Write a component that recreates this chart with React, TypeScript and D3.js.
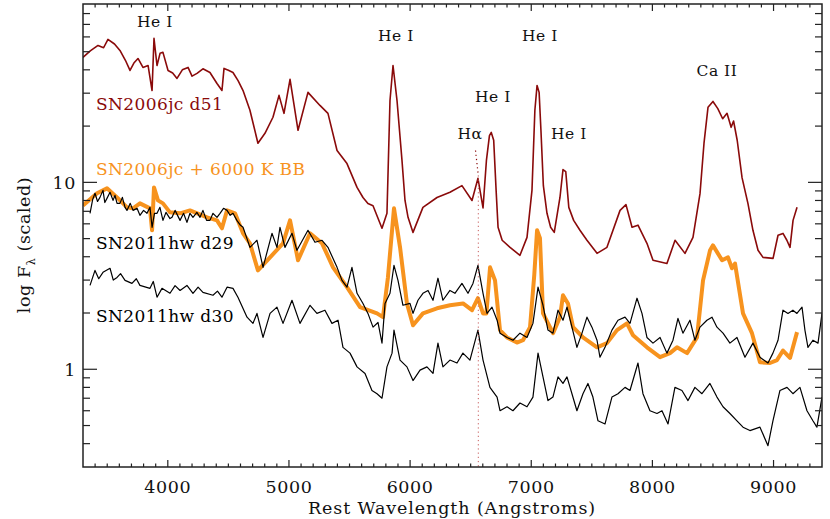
import React from 'react';
import * as d3 from 'd3';

// SN2006jc day 51 (dark red)
const d51Wave = [3300, 3360, 3424, 3470, 3506, 3560, 3605, 3650, 3688, 3720, 3754, 3795, 3837, 3870, 3886, 3911, 3936, 3960, 4002, 4040, 4076, 4120, 4167, 4200, 4241, 4290, 4348, 4406, 4447, 4464, 4500, 4538, 4580, 4621, 4678, 4744, 4802, 4868, 4918, 4959, 5009, 5075, 5157, 5256, 5322, 5397, 5479, 5562, 5611, 5652, 5694, 5768, 5809, 5834, 5859, 5892, 5933, 5958, 5983, 6024, 6106, 6222, 6329, 6428, 6511, 6560, 6602, 6630, 6655, 6670, 6690, 6710, 6726, 6760, 6825, 6907, 6965, 7006, 7030, 7048, 7065, 7080, 7100, 7130, 7160, 7190, 7237, 7262, 7285, 7310, 7350, 7402, 7460, 7543, 7625, 7733, 7782, 7832, 7881, 7955, 8005, 8120, 8187, 8269, 8335, 8393, 8426, 8459, 8500, 8540, 8580, 8616, 8650, 8670, 8700, 8740, 8789, 8830, 8872, 8913, 8996, 9037, 9078, 9110, 9136, 9161, 9194];
const d51Flux = [46.6, 50.5, 54.0, 52.5, 58.2, 55.0, 50.8, 45.0, 39.7, 43.5, 46.0, 41.2, 42.2, 31.0, 58.9, 42.2, 49.0, 49.6, 39.7, 38.5, 36.0, 40.0, 41.2, 37.0, 38.3, 40.5, 38.7, 33.8, 31.0, 40.7, 39.8, 38.7, 35.0, 31.0, 24.3, 16.2, 18.3, 22.3, 29.2, 23.4, 35.6, 19.0, 30.3, 25.8, 23.4, 14.8, 12.6, 9.4, 8.3, 7.7, 7.5, 5.68, 6.83, 27.4, 42.2, 27.4, 13.1, 8.0, 6.5, 5.4, 7.35, 8.3, 8.85, 9.6, 8.0, 10.5, 7.3, 13.1, 17.8, 18.5, 16.8, 9.06, 5.75, 4.9, 4.49, 4.07, 5.08, 9.06, 24.3, 33.0, 30.3, 19.0, 9.6, 6.83, 5.75, 5.4, 8.3, 11.7, 11.4, 7.35, 6.26, 5.54, 4.9, 4.17, 4.49, 7.08, 7.6, 5.75, 5.9, 4.72, 3.83, 3.68, 4.9, 4.17, 5.08, 8.7, 16.2, 25.2, 27.1, 24.8, 21.9, 23.4, 19.7, 21.3, 16.8, 10.6, 7.7, 5.54, 4.33, 3.97, 3.92, 5.21, 5.33, 4.9, 4.49, 6.26, 7.35];

// SN2006jc + 6000 K blackbody (orange)
const bbWave = [3300, 3416, 3498, 3581, 3663, 3713, 3770, 3853, 3870, 3886, 3919, 3960, 4018, 4101, 4183, 4324, 4406, 4447, 4489, 4555, 4621, 4678, 4744, 4844, 4951, 5009, 5075, 5174, 5273, 5364, 5479, 5587, 5727, 5776, 5817, 5867, 5917, 5974, 6024, 6106, 6222, 6329, 6437, 6511, 6560, 6602, 6630, 6660, 6701, 6742, 6800, 6882, 6932, 6990, 7025, 7048, 7072, 7097, 7180, 7237, 7262, 7303, 7345, 7427, 7543, 7625, 7708, 7790, 7840, 7955, 8063, 8145, 8203, 8286, 8368, 8418, 8476, 8500, 8575, 8624, 8657, 8682, 8748, 8822, 8888, 8971, 9029, 9078, 9136, 9194];
const bbFlux = [7.53, 8.74, 9.29, 8.31, 7.35, 7.26, 7.72, 7.26, 5.54, 9.4, 8.01, 7.72, 6.91, 6.83, 7.08, 6.5, 6.26, 5.68, 7.08, 6.83, 5.34, 4.72, 3.38, 3.97, 4.72, 6.26, 3.83, 5.34, 4.72, 3.51, 2.75, 2.15, 1.99, 1.9, 3.1, 7.26, 4.49, 2.25, 1.72, 1.99, 2.12, 2.2, 2.25, 2.07, 2.4, 1.99, 1.99, 3.51, 2.99, 1.62, 1.48, 1.39, 1.43, 1.68, 3.2, 5.54, 5.02, 1.99, 1.56, 1.9, 2.49, 2.25, 1.68, 1.48, 1.31, 1.38, 1.62, 1.76, 1.52, 1.31, 1.16, 1.22, 1.31, 1.22, 1.48, 2.99, 4.33, 4.6, 3.83, 3.97, 3.47, 3.68, 1.99, 1.56, 1.09, 1.08, 1.12, 1.26, 1.15, 1.58];

// SN2011hw day 29 (black)
const d29Wave = [3358, 3380, 3399, 3420, 3440, 3465, 3480, 3498, 3523, 3548, 3564, 3581, 3605, 3625, 3647, 3663, 3690, 3713, 3746, 3770, 3800, 3828, 3853, 3870, 3890, 3911, 3935, 3960, 3985, 4018, 4035, 4060, 4101, 4130, 4158, 4183, 4208, 4240, 4266, 4290, 4320, 4348, 4373, 4406, 4431, 4460, 4489, 4515, 4538, 4570, 4600, 4621, 4650, 4678, 4736, 4786, 4860, 4901, 4926, 4967, 5025, 5066, 5157, 5215, 5273, 5322, 5397, 5438, 5479, 5520, 5562, 5611, 5652, 5694, 5735, 5768, 5793, 5834, 5867, 5900, 5941, 5999, 6024, 6065, 6106, 6148, 6189, 6230, 6271, 6329, 6370, 6428, 6478, 6519, 6560, 6602, 6635, 6676, 6718, 6742, 6800, 6849, 6907, 6965, 7014, 7056, 7097, 7138, 7179, 7221, 7262, 7295, 7336, 7377, 7419, 7460, 7501, 7543, 7567, 7609, 7666, 7716, 7774, 7815, 7873, 7914, 7955, 8005, 8063, 8120, 8170, 8211, 8252, 8310, 8351, 8393, 8450, 8492, 8533, 8583, 8640, 8698, 8764, 8830, 8888, 8954, 8995, 9037, 9078, 9119, 9160, 9193, 9235, 9259, 9284, 9325, 9367, 9400];
const d29Flux = [6.83, 8.1, 8.74, 7.9, 8.31, 9.06, 7.8, 8.21, 8.85, 8.01, 8.52, 7.72, 7.72, 8.31, 7.35, 7.08, 7.72, 7.08, 7.26, 6.66, 7.08, 6.83, 7.35, 5.75, 6.83, 6.83, 7.35, 6.26, 6.91, 6.4, 6.5, 7.08, 6.26, 6.83, 6.11, 6.83, 6.5, 6.91, 6.5, 7.08, 6.26, 6.26, 6.83, 6.5, 6.83, 7.26, 7.08, 6.66, 6.83, 6.26, 5.89, 5.75, 5.08, 4.49, 4.9, 3.51, 5.34, 4.49, 5.75, 4.49, 5.34, 4.33, 5.54, 4.78, 4.9, 4.49, 3.51, 2.99, 2.75, 3.51, 2.55, 2.25, 1.99, 1.68, 1.78, 1.38, 2.25, 2.55, 3.6, 2.99, 2.2, 2.25, 1.99, 2.34, 2.55, 2.64, 2.34, 3.07, 2.34, 2.64, 2.55, 2.88, 2.55, 2.88, 3.6, 2.55, 1.99, 2.15, 1.83, 1.56, 1.48, 1.43, 1.56, 1.48, 1.76, 2.75, 2.2, 1.62, 1.56, 2.07, 1.83, 2.15, 1.68, 1.31, 1.56, 1.9, 1.68, 1.43, 1.16, 1.31, 1.62, 1.83, 1.9, 1.76, 2.4, 1.99, 1.48, 1.38, 1.48, 1.22, 1.43, 1.87, 1.56, 1.83, 1.43, 1.68, 1.83, 1.9, 1.68, 1.56, 1.38, 1.48, 1.16, 1.38, 1.16, 1.08, 1.22, 1.43, 2.07, 1.99, 2.07, 1.99, 2.15, 1.62, 1.31, 1.43, 1.38, 1.99];

// SN2011hw day 30 (black)
const d30Wave = [3358, 3399, 3430, 3465, 3523, 3550, 3581, 3610, 3647, 3704, 3740, 3770, 3853, 3880, 3911, 3952, 4018, 4060, 4101, 4158, 4208, 4250, 4290, 4373, 4410, 4447, 4489, 4538, 4579, 4654, 4703, 4736, 4786, 4844, 4901, 4951, 5025, 5091, 5174, 5231, 5297, 5355, 5405, 5446, 5504, 5562, 5628, 5685, 5727, 5768, 5809, 5851, 5867, 5917, 5974, 6024, 6082, 6139, 6189, 6230, 6271, 6329, 6387, 6436, 6494, 6560, 6602, 6659, 6718, 6742, 6800, 6849, 6907, 6965, 7014, 7056, 7097, 7138, 7179, 7221, 7262, 7295, 7336, 7377, 7427, 7468, 7509, 7551, 7609, 7666, 7716, 7774, 7815, 7881, 7922, 7980, 8038, 8079, 8129, 8186, 8244, 8294, 8351, 8409, 8475, 8533, 8583, 8640, 8698, 8748, 8805, 8888, 8954, 8995, 9053, 9111, 9160, 9218, 9276, 9325, 9358, 9400];
const d30Flux = [2.81, 3.38, 3.05, 3.3, 3.47, 3.0, 3.1, 3.25, 2.99, 2.88, 3.05, 2.81, 2.71, 2.95, 2.43, 2.71, 2.55, 2.8, 2.64, 2.81, 2.55, 2.75, 2.58, 2.49, 2.62, 2.43, 2.75, 2.71, 2.43, 1.9, 1.76, 1.99, 1.48, 1.99, 2.15, 1.76, 2.34, 1.76, 2.2, 1.99, 2.07, 1.76, 1.83, 1.31, 1.22, 1.03, 0.95, 0.77, 0.74, 0.7, 1.03, 1.22, 1.62, 1.12, 1.03, 0.87, 0.99, 1.03, 0.95, 1.38, 1.03, 1.12, 1.08, 1.22, 1.12, 1.62, 1.12, 0.8, 0.71, 0.6, 0.63, 0.6, 0.66, 0.63, 0.71, 1.22, 0.91, 0.68, 0.71, 0.91, 0.84, 0.91, 0.74, 0.6, 0.74, 0.84, 0.71, 0.53, 0.51, 0.71, 0.74, 0.8, 0.77, 1.08, 0.74, 0.6, 0.58, 0.6, 0.51, 0.8, 0.77, 0.68, 0.8, 0.74, 0.84, 0.71, 0.63, 0.58, 0.53, 0.49, 0.47, 0.49, 0.39, 0.53, 0.77, 0.8, 0.74, 0.8, 0.6, 0.53, 0.49, 0.71];

const xMajorTicks = [4000, 5000, 6000, 7000, 8000, 9000];
const yMajorTicks = [1, 10];
const yMinorTicks = [0.4, 0.5, 0.6, 0.7, 0.8, 0.9, 2, 3, 4, 5, 6, 7, 8, 9, 20, 30, 40, 50, 60, 70, 80];

const seriesNames = ['SN2006jc d51', 'SN2006jc + 6000 K BB', 'SN2011hw d29', 'SN2011hw d30'];
const seriesLabelFlux = [24.3, 10.9, 4.38, 1.78];

const lineNames = ['He I', 'He I', 'He I', 'He I', 'H\u03b1', 'He I', 'Ca II'];
const lineWave = [3894, 5883, 7072, 6684, 6494, 7311, 8533];
const lineFlux = [67.4, 56.8, 56.8, 26.8, 17.0, 17.0, 36.9];

const hAlpha = 6563;

const W = 830;
const H = 519;
const left = 83;
const right = 822;
const top = 4;
const bottom = 467;

const RED = '#8a0a0a';
const ORANGE = '#f7931e';
const FONT = 'DejaVu Serif, Liberation Serif, serif';

export default function App() {
  const x = d3.scaleLinear().domain([3300, 9400]).range([left, right]);
  const y = d3.scaleLog().domain([0.3, 90]).range([bottom, top]);

  const line = d3
    .line<[number, number]>()
    .x((d) => x(d[0]))
    .y((d) => y(d[1]));

  const pair = (w: number[], f: number[]) => w.map((v, i) => [v, f[i]] as [number, number]);

  const xMinor = d3.range(3400, 9400, 100).filter((v) => v % 1000 !== 0);

  const seriesColors = [RED, ORANGE, '#000', '#000'];

  return (
    <svg
      width={W}
      height={H}
      style={{ position: 'absolute', left: 0, top: 0, background: '#fff', fontFamily: FONT }}
    >
      <defs>
        <clipPath id="plot">
          <rect x={left} y={top} width={right - left} height={bottom - top} />
        </clipPath>
      </defs>

      <g clipPath="url(#plot)" fill="none" strokeLinejoin="round">
        <path d={line(pair(d51Wave, d51Flux)) || ''} stroke={RED} strokeWidth={1.6} />
        <path d={line(pair(bbWave, bbFlux)) || ''} stroke={ORANGE} strokeWidth={4} />
        <path d={line(pair(d29Wave, d29Flux)) || ''} stroke="#000" strokeWidth={1.2} />
        <path d={line(pair(d30Wave, d30Flux)) || ''} stroke="#000" strokeWidth={1.2} />
        {/* H-alpha marker */}
        <path
          d={line([[6540, 14.8], [hAlpha, 10.9]]) || ''}
          stroke={RED}
          strokeWidth={1.2}
          strokeDasharray="1.2 3"
        />
        <path
          d={line([[hAlpha, 10.9], [hAlpha, 0.3]]) || ''}
          stroke="#c75a5a"
          strokeWidth={1}
          strokeDasharray="1.2 3"
        />
      </g>

      {/* frame */}
      <rect x={left} y={top} width={right - left} height={bottom - top} fill="none" stroke="#222" strokeWidth={1.5} />

      {/* ticks on all four sides */}
      <g stroke="#222" strokeWidth={1.2}>
        {xMajorTicks.map((t) => (
          <g key={'xm' + t}>
            <line x1={x(t)} x2={x(t)} y1={bottom} y2={bottom - 7} />
            <line x1={x(t)} x2={x(t)} y1={top} y2={top + 7} />
          </g>
        ))}
        {xMinor.map((t) => (
          <g key={'xn' + t}>
            <line x1={x(t)} x2={x(t)} y1={bottom} y2={bottom - 3.5} />
            <line x1={x(t)} x2={x(t)} y1={top} y2={top + 3.5} />
          </g>
        ))}
        {yMajorTicks.map((t) => (
          <g key={'ym' + t}>
            <line x1={left} x2={left + 14} y1={y(t)} y2={y(t)} />
            <line x1={right} x2={right - 14} y1={y(t)} y2={y(t)} />
          </g>
        ))}
        {yMinorTicks.map((t) => (
          <g key={'yn' + t}>
            <line x1={left} x2={left + 7} y1={y(t)} y2={y(t)} />
            <line x1={right} x2={right - 7} y1={y(t)} y2={y(t)} />
          </g>
        ))}
      </g>

      {/* tick labels */}
      <g fontSize={17.5} fill="#111" letterSpacing={0.6}>
        {xMajorTicks.map((t) => (
          <text key={'xl' + t} x={x(t)} y={493} textAnchor="middle">
            {t}
          </text>
        ))}
        {yMajorTicks.map((t) => (
          <text key={'yl' + t} x={left - 7} y={y(t) + 6.5} textAnchor="end">
            {t}
          </text>
        ))}
      </g>

      {/* axis titles */}
      <text x={452} y={514} textAnchor="middle" fontSize={17.5} fill="#111" letterSpacing={0.9}>
        Rest Wavelength (Angstroms)
      </text>
      <text
        transform="translate(30,245) rotate(-90)"
        textAnchor="middle"
        fontSize={17.5}
        fill="#111"
        letterSpacing={0.6}
      >
        log F<tspan fontSize={11} dy={5}>{'\u03bb'}</tspan>
        <tspan dy={-5}> (scaled)</tspan>
      </text>

      {/* series labels */}
      <g fontSize={17} letterSpacing={0.4}>
        {seriesNames.map((s, i) => (
          <text key={s} x={x(3407)} y={y(seriesLabelFlux[i])} fill={seriesColors[i]}>
            {s}
          </text>
        ))}
      </g>

      {/* line identifications */}
      <g fontSize={15.5} fill="#111" letterSpacing={0.5}>
        {lineNames.map((s, i) => (
          <text key={s + i} x={x(lineWave[i])} y={y(lineFlux[i])} textAnchor="middle">
            {s}
          </text>
        ))}
      </g>
    </svg>
  );
}
